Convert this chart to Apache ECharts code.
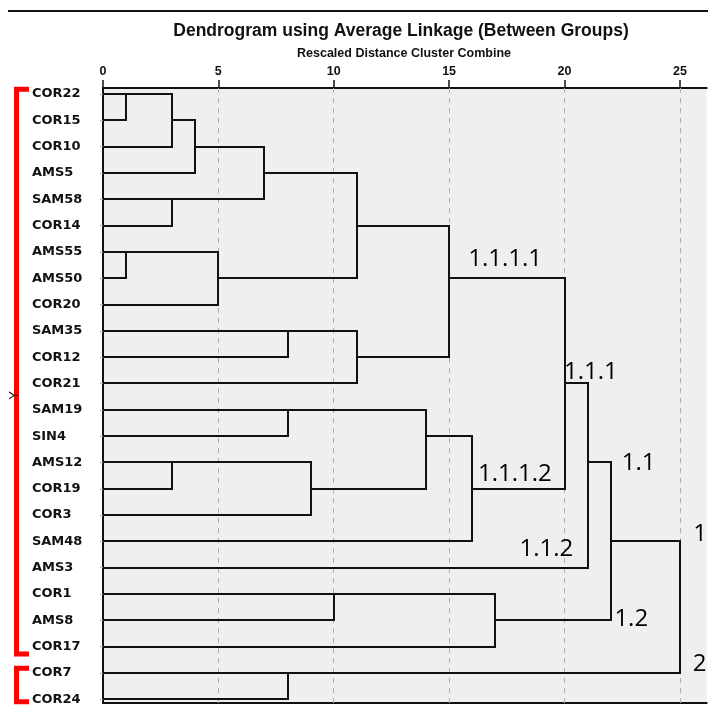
<!DOCTYPE html>
<html><head><meta charset="utf-8">
<script src="https://cdn.jsdelivr.net/npm/echarts@6/dist/echarts.min.js"></script>
<style>html,body{margin:0;padding:0;background:#fff}#c{width:708px;height:706px}</style>
</head><body><div id="c"></div>
<script>
// Leaves, top to bottom
const leaves = ['COR22','COR15','COR10','AMS5','SAM58','COR14','AMS55','AMS50','COR20','SAM35','COR12','COR21','SAM19','SIN4','AMS12','COR19','COR3','SAM48','AMS3','COR1','AMS8','COR17','COR7','COR24'];
// Agglomeration: [new cluster id, member A, member B, rescaled distance]
const merges = [
  ['A','COR22','COR15',1],
  ['B','A','COR10',3],
  ['C','B','AMS5',4],
  ['D','SAM58','COR14',3],
  ['E','C','D',7],
  ['F','AMS55','AMS50',1],
  ['G','F','COR20',5],
  ['H','E','G',11],
  ['I','SAM35','COR12',8],
  ['J','I','COR21',11],
  ['K','H','J',15],
  ['O','SAM19','SIN4',8],
  ['P','AMS12','COR19',3],
  ['Q','P','COR3',9],
  ['N','O','Q',14],
  ['M','N','SAM48',16],
  ['L','K','M',20],
  ['R','L','AMS3',21],
  ['S','COR1','AMS8',10],
  ['T','S','COR17',17],
  ['U','R','T',22],
  ['V','COR7','COR24',8],
  ['W','U','V',25]
];
// Axis tick values
const xTicks = [0,5,10,15,20,25];
const gridLines = [5,10,15,20,25];
// Cluster annotations: [text, distance, row]
const clusterTags = [
  ['1.1.1.1',15.83,6.26],
  ['1.1.1',19.98,10.56],
  ['1.1.1.2',16.25,14.44],
  ['1.1',22.48,14.04],
  ['1.1.2',18.05,17.30],
  ['1',25.58,16.74],
  ['1.2',22.16,19.96],
  ['2',25.56,21.68]
];
// Bracket groups (first leaf, last leaf)
const brackets = [['COR22','COR17'],['COR7','COR24']];

const X_MAX = 26.16, Y_MIN = -0.228, Y_MAX = 23.14;

const rowOf = {}, hOf = {};
leaves.forEach((n,i)=>{rowOf[n]=i; hOf[n]=0;});
const segs = [];
merges.forEach(([id,a,b,d])=>{
  const ra=rowOf[a], rb=rowOf[b];
  segs.push([hOf[a],ra,d,ra,d,rb,hOf[b],rb]);
  rowOf[id]=Math.floor((ra+rb)/2); hOf[id]=d;
});
const rowVals = leaves.map((_,i)=>i);

const chart = echarts.init(document.getElementById('c'));
chart.setOption({
  animation:false,
  grid:{left:102,right:1.3,top:88,bottom:3,show:true,backgroundColor:'#efefef',borderWidth:0},
  xAxis:[{
    type:'value',position:'top',min:0,max:X_MAX,
    axisLine:{show:true,onZero:false,lineStyle:{color:'#111',width:2}},
    axisTick:{show:true,customValues:xTicks,length:8,lineStyle:{color:'#111',width:1.5}},
    axisLabel:{customValues:xTicks,fontFamily:'Liberation Sans',fontWeight:'bold',fontSize:12.5,color:'#111',margin:10},
    splitLine:{show:false}
  },{
    type:'value',position:'bottom',min:0,max:X_MAX,
    axisLine:{show:true,onZero:false,lineStyle:{color:'#111',width:2}},
    axisTick:{show:false},axisLabel:{show:false},splitLine:{show:false}
  }],
  yAxis:{
    type:'value',inverse:true,min:Y_MIN,max:Y_MAX,z:10,
    name:'Y',nameLocation:'middle',nameRotate:90,nameGap:79,
    nameTextStyle:{fontFamily:'Liberation Sans',fontSize:13,color:'#111'},
    axisLine:{show:true,onZero:false,lineStyle:{color:'#111',width:2}},
    axisTick:{show:true,customValues:rowVals,length:3,lineStyle:{color:'#bbb',width:1}},
    axisLabel:{customValues:rowVals,formatter:v=>leaves[Math.round(v)],align:'left',margin:71,
      fontFamily:'DejaVu Sans',fontWeight:'bold',fontSize:13,color:'#111'},
    splitLine:{show:false}
  },
  series:[{
    type:'scatter',data:[],silent:true,z:1,
    markLine:{silent:true,z:1,symbol:'none',label:{show:false},animation:false,
      lineStyle:{color:'#b0b0b0',type:[5,5],width:1},
      data:gridLines.map(v=>({xAxis:v}))}
  },{
    type:'custom',silent:true,z:3,
    data:segs,
    renderItem:(params,api)=>{
      const pts=[];
      for(let k=0;k<4;k++){
        const p=api.coord([api.value(2*k),api.value(2*k+1)]);
        pts.push([Math.round(p[0]),Math.round(p[1])]);
      }
      return {type:'polyline',shape:{points:pts},style:{stroke:'#111',lineWidth:2,fill:null,lineJoin:'miter'}};
    }
  },{
    type:'scatter',symbolSize:0,silent:true,z:5,itemStyle:{opacity:1},
    data:clusterTags.map(t=>({name:t[0],value:[t[1],t[2]]})),
    label:{show:true,formatter:'{b}',position:'right',distance:0,opacity:1,fontFamily:'Open Sans',fontSize:24,color:'#000'}
  }]
});

const g = [
  {type:'line',shape:{x1:8,y1:11,x2:708,y2:11},style:{stroke:'#111',lineWidth:2}},
  {type:'text',x:401,y:31.5,style:{text:'Dendrogram using Average Linkage (Between Groups)',font:'bold 17.5px "Liberation Sans"',fill:'#111',align:'center',verticalAlign:'middle'}},
  {type:'text',x:404,y:54,style:{text:'Rescaled Distance Cluster Combine',font:'bold 12.5px "Liberation Sans"',fill:'#111',align:'center',verticalAlign:'middle'}}
];
brackets.forEach(([a,b])=>{
  const top = chart.convertToPixel({yAxisIndex:0},leaves.indexOf(a)) - 7;
  const bot = Math.min(chart.convertToPixel({yAxisIndex:0},leaves.indexOf(b)) + 9.5, 704);
  g.push({type:'polyline',z:-1,shape:{points:[[29,top+2.3],[16.5,top+2.3],[16.5,bot-2.3],[29,bot-2.3]]},
    style:{stroke:'#ff0000',lineWidth:5,fill:null,lineJoin:'miter'}});
});
chart.setOption({graphic:g});
</script></body></html>
